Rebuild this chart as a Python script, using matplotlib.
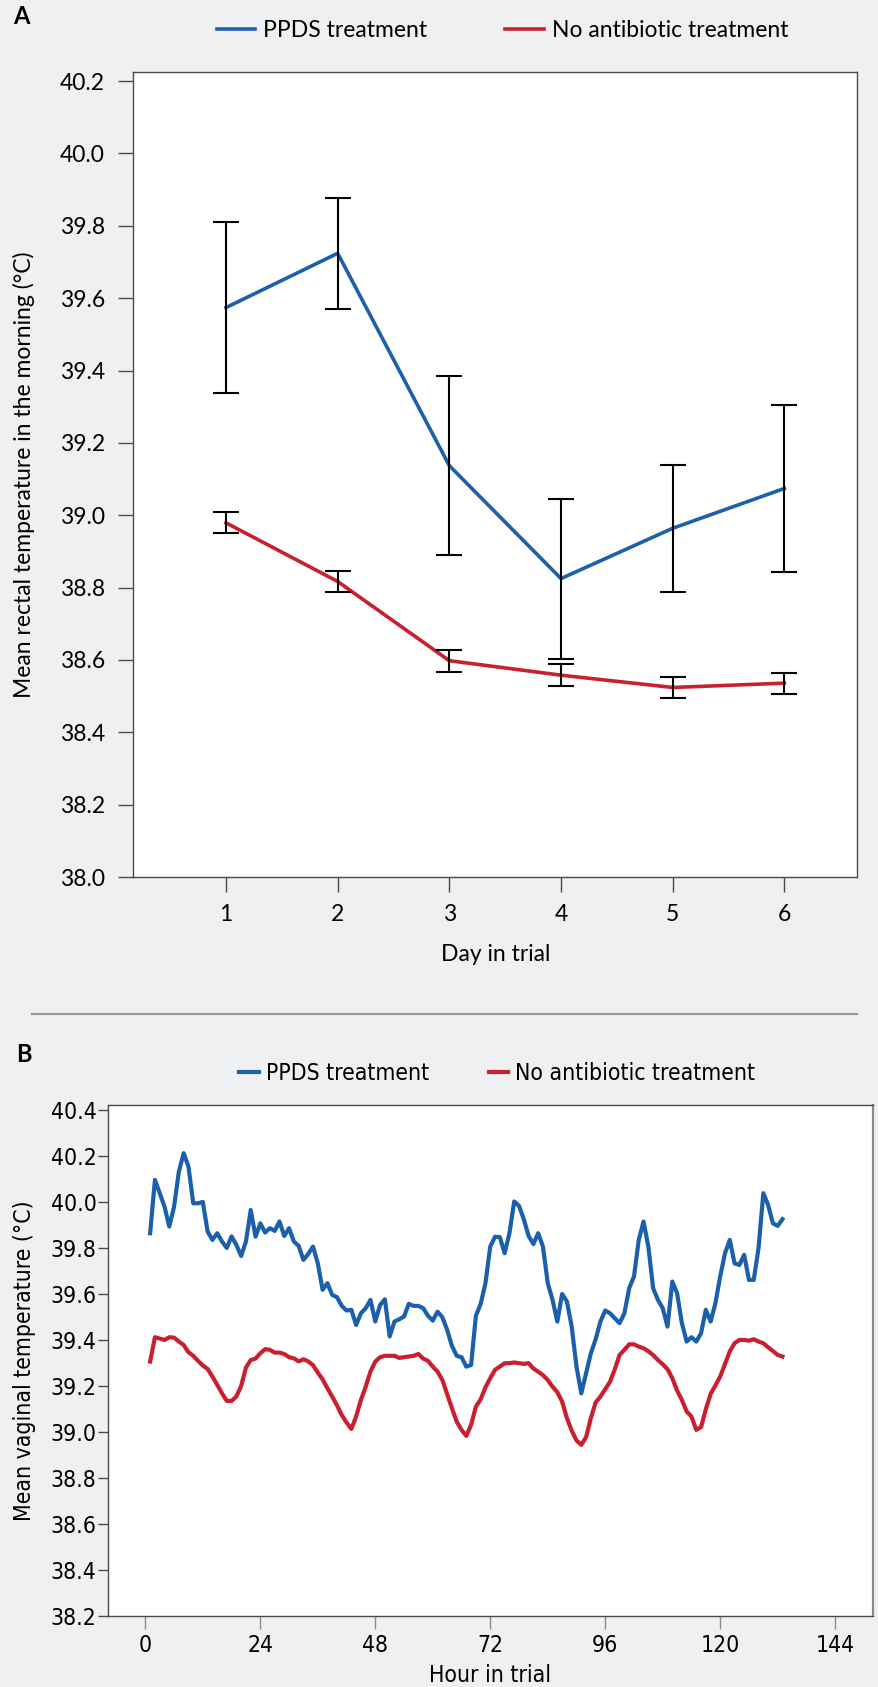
import numpy as np
import matplotlib.pyplot as plt
from matplotlib import font_manager
from matplotlib.lines import Line2D
from matplotlib.font_manager import FontProperties

# ---- panel A: morning rectal temperature, mean +/- error per day ----
days = [1, 2, 3, 4, 5, 6]
ppds_rectal = [39.574, 39.724, 39.137, 38.825, 38.964, 39.074]
ppds_rectal_err = [0.236, 0.153, 0.248, 0.221, 0.176, 0.230]
noab_rectal = [38.979, 38.817, 38.598, 38.558, 38.524, 38.536]
noab_rectal_err = [0.029, 0.030, 0.030, 0.030, 0.030, 0.029]

# ---- panel B: hourly vaginal temperature (hours 1..133) ----
ppds_vaginal = [
    39.864, 40.096, 40.038, 39.980, 39.893, 39.980, 40.132, 40.212, 40.154, 39.994,
    39.994, 40.000, 39.871, 39.835, 39.864, 39.828, 39.800, 39.850, 39.813, 39.765,
    39.828, 39.965,
    39.849, 39.907, 39.867, 39.886, 39.874, 39.915, 39.852, 39.886, 39.828, 39.809,
    39.748, 39.774, 39.806, 39.733, 39.618, 39.647, 39.596, 39.586, 39.548, 39.528,
    39.531, 39.465, 39.516, 39.538, 39.574, 39.480, 39.552, 39.577, 39.415, 39.480,
    39.490,
    39.502, 39.557, 39.548, 39.548, 39.538, 39.505, 39.484, 39.523, 39.499, 39.444,
    39.374, 39.331, 39.325, 39.284, 39.291, 39.505, 39.557, 39.647, 39.806, 39.849,
    39.847, 39.777, 39.864, 40.002, 39.983, 39.925, 39.852, 39.817, 39.864,
    39.806, 39.647, 39.574, 39.480, 39.600, 39.567, 39.458, 39.284, 39.168, 39.255,
    39.342, 39.403, 39.480, 39.528, 39.516, 39.494, 39.473, 39.516, 39.625, 39.676,
    39.835, 39.915, 39.806, 39.625, 39.574, 39.538, 39.458, 39.654, 39.603, 39.473,
    39.393,
    39.412, 39.393, 39.429, 39.531, 39.480, 39.560, 39.676, 39.777, 39.835, 39.733,
    39.726, 39.770, 39.661, 39.661, 39.799, 40.038, 39.987, 39.907, 39.896, 39.925,
]
noab_vaginal = [
    39.306, 39.412, 39.406, 39.400, 39.412, 39.410, 39.393, 39.378, 39.347, 39.331,
    39.309, 39.289, 39.274, 39.241, 39.205, 39.168, 39.135, 39.135, 39.154, 39.200,
    39.280, 39.313,
    39.319, 39.342, 39.360, 39.357, 39.345, 39.345, 39.339, 39.325, 39.320, 39.307,
    39.316, 39.307, 39.290, 39.258, 39.229, 39.190, 39.154, 39.116, 39.074, 39.041,
    39.013, 39.067, 39.139, 39.197, 39.263, 39.306, 39.325, 39.331, 39.331, 39.331,
    39.322,
    39.325, 39.328, 39.331, 39.339, 39.319, 39.309, 39.284, 39.262, 39.226, 39.165,
    39.103, 39.045, 39.009, 38.983, 39.031, 39.110, 39.142, 39.194, 39.234, 39.270,
    39.284, 39.299, 39.299, 39.302, 39.299, 39.296, 39.299, 39.276, 39.262,
    39.247, 39.226, 39.197, 39.173, 39.132, 39.060, 39.006, 38.963, 38.944, 38.977,
    39.060, 39.128, 39.154, 39.186, 39.218, 39.273, 39.335, 39.357, 39.381, 39.381,
    39.371, 39.364, 39.351, 39.334, 39.313, 39.294, 39.273, 39.234, 39.180, 39.139,
    39.089,
    39.067, 39.009, 39.021, 39.099, 39.165, 39.202, 39.241, 39.296, 39.350, 39.386,
    39.400, 39.400, 39.397, 39.403, 39.393, 39.386, 39.368, 39.352, 39.335, 39.328,
]
hours = np.arange(1, len(ppds_vaginal) + 1)

labels = ['PPDS treatment', 'No antibiotic treatment']
blue = '#1c5fab'
red = '#c8202f'
bg = '#eff0f2'
spine_col = '#4a4a4a'

# condensed font for panel B if one is around
names = {f.name for f in font_manager.fontManager.ttflist}
if 'Liberation Sans Narrow' in names:
    fpB = FontProperties(family='Liberation Sans Narrow', size=17.5)
else:
    fpB = FontProperties(family='DejaVu Sans', stretch='condensed', size=16.5)

plt.rcParams['font.family'] = ['Lato', 'DejaVu Sans']

fig = plt.figure(figsize=(8.79, 16.87), dpi=100, facecolor=bg)

# ---------------- panel A ----------------
axA = fig.add_axes([0.1518, 0.4801, 0.8237, 0.4772])
axA.plot(days, ppds_rectal, color=blue, lw=2.6, label=labels[0], zorder=2)
axA.plot(days, noab_rectal, color=red, lw=2.6, label=labels[1], zorder=2)
axA.errorbar(days, ppds_rectal, yerr=ppds_rectal_err, fmt='none', ecolor='black',
             elinewidth=1.5, capsize=9.5, capthick=1.5, zorder=3)
axA.errorbar(days, noab_rectal, yerr=noab_rectal_err, fmt='none', ecolor='black',
             elinewidth=1.5, capsize=9.5, capthick=1.5, zorder=3)
axA.set_xlim(0.171, 6.655)
axA.set_ylim(38.0, 40.225)
axA.set_xticks(days)
axA.set_yticks(np.arange(38.0, 40.21, 0.2))
axA.yaxis.set_major_formatter(plt.FormatStrFormatter('%.1f'))
axA.tick_params(axis='both', direction='out', length=10.5, width=1.0,
                color=spine_col, labelsize=16.5)
axA.tick_params(axis='x', pad=9)
axA.tick_params(axis='y', pad=10)
for s in axA.spines.values():
    s.set_color(spine_col)
    s.set_linewidth(1.0)
axA.set_xlabel('Day in trial', fontsize=16.5)
axA.set_ylabel('Mean rectal temperature in the morning (°C)', fontsize=16.5)
axA.xaxis.set_label_coords(0.5, -0.083)
axA.yaxis.set_label_coords(-0.136, 0.5)
axA.legend(loc='center', bbox_to_anchor=(0.51, 1.052), ncol=2, frameon=False,
           fontsize=16.5, handlelength=1.66, handletextpad=0.35,
           columnspacing=3.4)
fig.text(13 / 879, 1 - 16 / 1687, 'A', fontsize=17, fontweight='bold',
         ha='left', va='center')

# separator
fig.add_artist(Line2D([32 / 879, 857.5 / 879], [1 - 1013.5 / 1687] * 2,
                      color='#9a9a9a', lw=1.6))

# ---------------- panel B ----------------
axB = fig.add_axes([0.1223, 0.0421, 0.8709, 0.3031])
axB.plot(hours, ppds_vaginal, color=blue, lw=3.0, label=labels[0])
axB.plot(hours, noab_vaginal, color=red, lw=3.0, label=labels[1])
axB.set_xlim(-7.9, 151.9)
axB.set_ylim(38.2, 40.423)
axB.set_xticks(np.arange(0, 145, 24))
axB.set_yticks(np.arange(38.2, 40.41, 0.2))
axB.yaxis.set_major_formatter(plt.FormatStrFormatter('%.1f'))
axB.tick_params(axis='x', direction='out', length=9, width=1.0,
                color='#8a8a8a', pad=4)
axB.tick_params(axis='y', direction='out', length=7, width=1.0,
                color=spine_col, pad=1)
for lab in axB.get_xticklabels() + axB.get_yticklabels():
    lab.set_fontproperties(fpB)
for s in axB.spines.values():
    s.set_color(spine_col)
    s.set_linewidth(1.0)
axB.spines['right'].set_color('#8a8a8a')
axB.spines['right'].set_linewidth(1.6)
axB.set_xlabel('Hour in trial', fontproperties=fpB)
axB.set_ylabel('Mean vaginal temperature (°C)', fontproperties=fpB)
axB.xaxis.set_label_coords(0.5, -0.094)
axB.yaxis.set_label_coords(-0.0934, 0.5)
axB.legend(loc='center', bbox_to_anchor=(0.509, 1.06), ncol=2, frameon=False,
           prop=fpB, handlelength=0.85, handletextpad=0.3, columnspacing=2.6)
fig.text(16 / 879, 1 - 1054 / 1687, 'B', fontsize=17, fontweight='bold',
         ha='left', va='center')

fig.savefig('out.png', dpi=100, facecolor=bg)
